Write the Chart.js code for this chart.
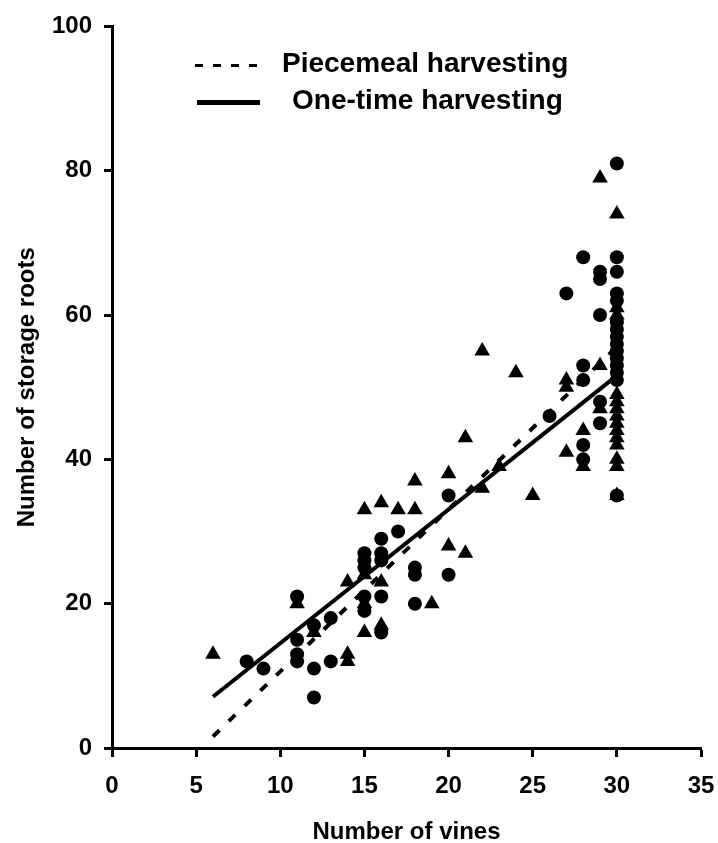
<!DOCTYPE html>
<html>
<head>
<meta charset="utf-8">
<script src="https://cdn.jsdelivr.net/npm/chart.js@4/dist/chart.umd.min.js"></script>
<style>
	body{margin:0;background:#fff;}
	#wrap{width:718px;height:843px;}
</style>
</head>
<body>
<div id="wrap"><canvas id="grafico" width="718" height="843"></canvas></div>
<script>
// piecemeal harvesting (circles)
var pieceX = [8, 9, 11, 11, 11, 11, 12, 12, 12, 13, 13,
	15, 15, 15, 15, 15, 16, 16, 16, 16, 16, 17, 18, 18, 18, 20, 20,
	26, 27, 28, 28, 28, 28, 28, 29, 29, 29, 29, 29,
	30, 30, 30, 30, 30, 30, 30, 30, 30, 30, 30, 30, 30, 30, 30];
var pieceY = [12, 11, 21, 15, 13, 12, 17, 11, 7, 18, 12,
	27, 26, 25, 21, 19, 29, 27, 26, 21, 16, 30, 25, 24, 20, 35, 24,
	46, 63, 68, 53, 51, 42, 40, 66, 65, 60, 48, 45,
	81, 68, 66, 63, 62, 59, 58, 57, 56, 55, 54, 53, 52, 51, 35];

// one-time harvesting (triangles)
var oneX = [6, 11, 12, 14, 14, 14, 15, 15, 15, 15, 16, 16, 16, 17, 18, 18, 19,
	20, 20, 21, 21, 22, 22, 23, 24, 25, 27, 27, 27, 28, 28, 29, 29, 29,
	30, 30, 30, 30, 30, 30, 30, 30, 30, 30, 30, 30, 30, 30];
var oneY = [13, 20, 16, 23, 13, 12, 33, 24, 20, 16, 34, 23, 17, 33, 37, 33, 20,
	38, 28, 43, 27, 55, 36, 39, 52, 35, 51, 50, 41, 44, 39, 79, 53, 47,
	74, 61, 60, 49, 48, 47, 46, 45, 44, 43, 42, 40, 39, 35];

// regression lines
var fitX = [6, 30];
var pieceFit = [1.6, 55.6];
var oneFit = [7.1, 51.6];

var legendNames = ['Piecemeal harvesting', 'One-time harvesting'];
var xTitle = 'Number of vines';
var yTitle = 'Number of storage roots';

var fuente = '"Liberation Sans", Arial, sans-serif';

function puntos(xs, ys){
	var arr = [];
	for (var i = 0; i < xs.length; i++) {
		arr.push({x: xs[i], y: ys[i]});
	}
	return arr;
}

// legend drawn inside the plot area
var leyenda = {
	id: 'leyenda',
	afterDraw: function(chart){
		var ctx = chart.ctx;
		var a = chart.chartArea;
		var x0 = a.left + 83;
		ctx.save();
		ctx.strokeStyle = '#000';
		ctx.lineWidth = 3;
		ctx.setLineDash([8, 10]);
		ctx.beginPath();
		ctx.moveTo(x0, a.top + 39);
		ctx.lineTo(x0 + 62, a.top + 39);
		ctx.stroke();
		ctx.setLineDash([]);
		ctx.lineWidth = 5;
		ctx.beginPath();
		ctx.moveTo(x0 + 2, a.top + 76);
		ctx.lineTo(x0 + 65, a.top + 76);
		ctx.stroke();
		ctx.fillStyle = '#000';
		ctx.font = 'bold 28px ' + fuente;
		ctx.textBaseline = 'middle';
		ctx.textAlign = 'left';
		ctx.fillText(legendNames[0], x0 + 87, a.top + 38);
		ctx.fillText(legendNames[1], x0 + 97, a.top + 75);
		ctx.restore();
	}
};

var config = {
	type: 'scatter',
	data: {
		datasets: [{
			label: legendNames[0],
			data: puntos(fitX, pieceFit),
			showLine: true,
			borderColor: '#000',
			borderWidth: 4,
			borderDash: [9, 13],
			pointRadius: 0,
			order: 0
		}, {
			label: legendNames[1],
			data: puntos(fitX, oneFit),
			showLine: true,
			borderColor: '#000',
			borderWidth: 4,
			pointRadius: 0,
			order: 0
		}, {
			label: legendNames[0],
			data: puntos(pieceX, pieceY),
			pointStyle: 'circle',
			pointRadius: 7,
			backgroundColor: '#000',
			borderColor: '#000',
			borderWidth: 0,
			order: 1
		}, {
			label: legendNames[1],
			data: puntos(oneX, oneY),
			pointStyle: 'triangle',
			pointRadius: 9,
			backgroundColor: '#000',
			borderColor: '#000',
			borderWidth: 0,
			order: 1
		}]
	},
	options: {
		responsive: false,
		animation: false,
		devicePixelRatio: 1,
		layout: {
			padding: {left: 0, right: 17, top: 24, bottom: 0}
		},
		plugins: {
			legend: {display: false},
			tooltip: {enabled: false}
		},
		scales: {
			x: {
				type: 'linear',
				min: 0,
				max: 35,
				afterFit: function(scale){
					scale.height = 95;
					scale.paddingRight = 0;
				},
				border: {display: true, color: '#000', width: 3},
				grid: {drawOnChartArea: false, drawTicks: true, tickLength: 9, tickWidth: 3, tickColor: '#000'},
				ticks: {stepSize: 5, padding: 15, color: '#000', font: {family: fuente, size: 24, weight: 'bold'}},
				title: {
					display: true,
					text: xTitle,
					color: '#000',
					padding: {top: 0, bottom: 0},
					font: {family: fuente, size: 24, weight: 'bold', lineHeight: 0.85}
				}
			},
			y: {
				type: 'linear',
				min: 0,
				max: 100,
				afterFit: function(scale){ scale.width = 112; },
				border: {display: true, color: '#000', width: 3},
				grid: {drawOnChartArea: false, drawTicks: true, tickLength: 8, tickWidth: 3, tickColor: '#000'},
				ticks: {stepSize: 20, padding: 12, color: '#000', font: {family: fuente, size: 24, weight: 'bold'}},
				title: {
					display: true,
					text: yTitle,
					color: '#000',
					padding: {top: 15, bottom: 0},
					font: {family: fuente, size: 24, weight: 'bold', lineHeight: 1}
				}
			}
		}
	},
	plugins: [leyenda]
};

var ctx = document.getElementById('grafico').getContext('2d');
window.miGrafico = new Chart(ctx, config);
</script>
</body>
</html>
